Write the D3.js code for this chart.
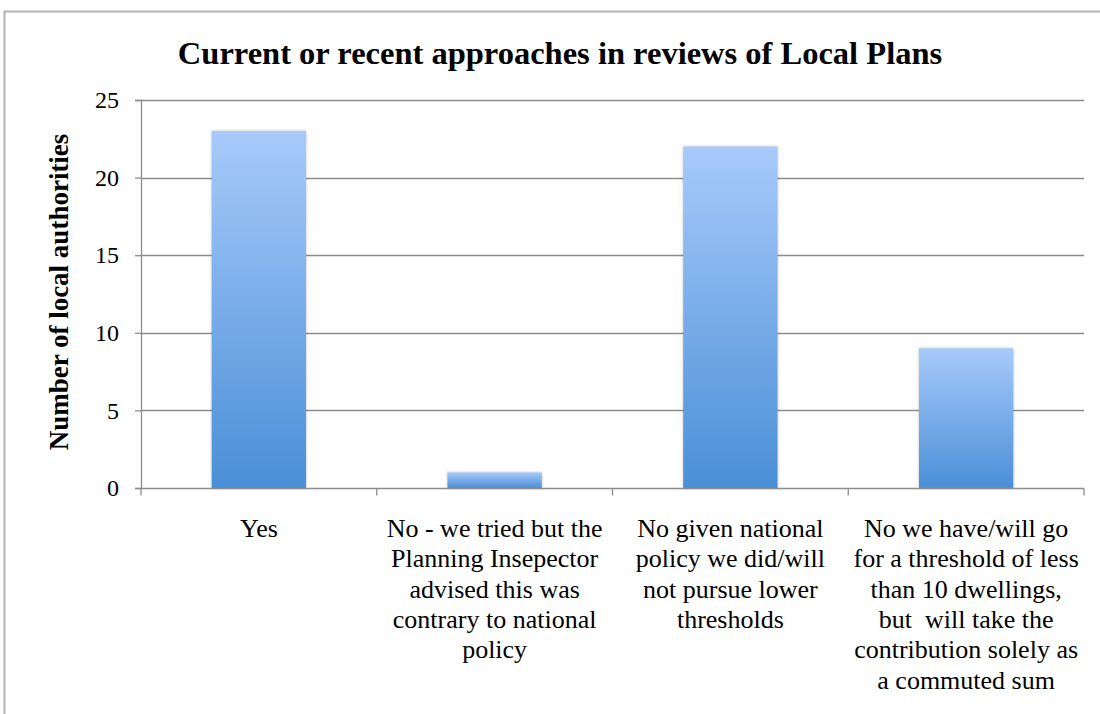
<!DOCTYPE html>
<meta charset="utf-8">
<body style="margin:0;background:#fff">
<script src="https://d3js.org/d3.v7.min.js"></script>
<script>
var categories = [
  ["Yes"],
  ["No - we tried but the", "Planning Insepector", "advised this was", "contrary to national", "policy"],
  ["No given national", "policy we did/will", "not pursue lower", "thresholds"],
  ["No we have/will go", "for a threshold of less", "than 10 dwellings,", "but \u00a0will take the", "contribution solely as", "a commuted sum"]
];
var values = [23, 1, 22, 9];
var yTicks = [0, 5, 10, 15, 20, 25];

var width = 1100, height = 714;
var margin = {left: 141, right: 16, top: 100, bottom: 226};
var serif = "Liberation Serif";

var svg = d3.select("body").append("svg")
    .attr("width", width)
    .attr("height", height)
    .attr("font-family", serif);

// outer frame
svg.append("path")
    .attr("d", "M4.5," + height + "V11.5H" + width)
    .attr("fill", "none")
    .attr("stroke", "#b3b3b3")
    .attr("stroke-width", 2);

var grad = svg.append("defs").append("linearGradient")
    .attr("id", "barGrad")
    .attr("x1", 0).attr("y1", 0).attr("x2", 0).attr("y2", 1);
grad.append("stop").attr("offset", "0%").attr("stop-color", "#a7cafa");
grad.append("stop").attr("offset", "100%").attr("stop-color", "#4a8fd7");

var x = d3.scaleBand()
    .domain(d3.range(categories.length))
    .range([margin.left, width - margin.right]);

var y = d3.scaleLinear()
    .domain([0, 25])
    .range([height - margin.bottom, margin.top]);

// gridlines
svg.append("g")
    .selectAll("line")
    .data(yTicks.slice(1))
    .enter().append("line")
    .attr("x1", margin.left).attr("x2", width - margin.right)
    .attr("y1", function(d) { return Math.round(y(d)) + 0.5; })
    .attr("y2", function(d) { return Math.round(y(d)) + 0.5; })
    .attr("stroke", "#8c8c8c")
    .attr("stroke-width", 1.3);

// bars
var bw = x.bandwidth() * 0.4;
svg.append("g")
    .selectAll("rect")
    .data(values)
    .enter().append("rect")
    .attr("x", function(d, i) { return x(i) + x.bandwidth() / 2 - bw / 2; })
    .attr("y", function(d) { return y(d); })
    .attr("width", bw)
    .attr("height", function(d) { return y(0) - y(d); })
    .attr("fill", "url(#barGrad)")
    .style("filter", "drop-shadow(0px 0px 1.5px rgba(0,0,0,0.25))");

// y axis
var yAxis = svg.append("g")
    .attr("transform", "translate(" + margin.left + ",0)")
    .call(d3.axisLeft(y).tickValues(yTicks).tickSize(6).tickPadding(16));
yAxis.attr("font-family", serif).attr("font-size", 24);
yAxis.select(".domain").attr("stroke", "#8c8c8c").attr("stroke-width", 1.3);
yAxis.selectAll(".tick line").attr("stroke", "#8c8c8c").attr("stroke-width", 1.3);
yAxis.selectAll(".tick text").attr("fill", "#000");

// x axis
var xAxis = svg.append("g")
    .attr("transform", "translate(0," + (Math.round(y(0)) + 0.5) + ")");
xAxis.append("line")
    .attr("x1", margin.left).attr("x2", width - margin.right)
    .attr("stroke", "#8c8c8c").attr("stroke-width", 1.3);
xAxis.selectAll("line.tk")
    .data(d3.range(categories.length + 1))
    .enter().append("line")
    .attr("class", "tk")
    .attr("x1", function(i) { return i < categories.length ? x(i) : x(i - 1) + x.bandwidth(); })
    .attr("x2", function(i) { return i < categories.length ? x(i) : x(i - 1) + x.bandwidth(); })
    .attr("y1", 0).attr("y2", 7)
    .attr("stroke", "#8c8c8c").attr("stroke-width", 1.3);

// category labels, one text per line
var labelG = svg.append("g").attr("font-size", 26);
categories.forEach(function(lines, i) {
  labelG.selectAll(null)
    .data(lines)
    .enter().append("text")
    .attr("x", x(i) + x.bandwidth() / 2)
    .attr("y", function(d, j) { return 537 + j * 30.3; })
    .attr("text-anchor", "middle")
    .text(function(d) { return d; });
});

// title
svg.append("text")
    .attr("x", 560)
    .attr("y", 64)
    .attr("text-anchor", "middle")
    .attr("font-weight", "bold")
    .attr("font-size", 32.5)
    .text("Current or recent approaches in reviews of Local Plans");

// y label
svg.append("text")
    .attr("transform", "translate(68,292) rotate(-90)")
    .attr("text-anchor", "middle")
    .attr("font-weight", "bold")
    .attr("font-size", 27)
    .text("Number of local authorities");
</script>
</body>
